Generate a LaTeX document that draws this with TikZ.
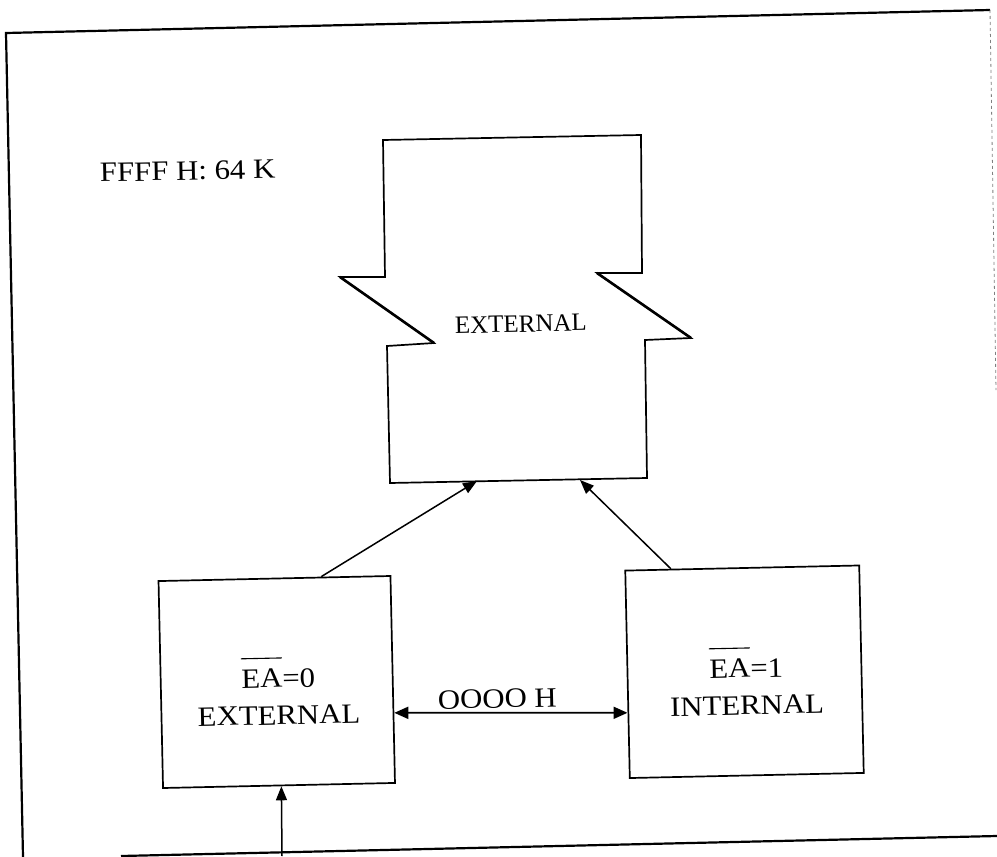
\documentclass[tikz,border=0pt]{standalone}
\usepackage{fontspec}
\setmainfont{Liberation Serif}[FakeStretch=1.1]
\newfontfamily\plainserif{Liberation Serif}
\usetikzlibrary{arrows.meta,calc}
\newcommand\ovl[1]{{\setbox0\hbox{#1}\rlap{\rule[29pt]{\wd0}{1.1pt}}\box0}}
\begin{document}
\begin{tikzpicture}[x=1pt,y=-1pt,
  membox/.style={draw, line width=1.7pt, rotate=1.25, inner sep=0pt},
  lbl/.style={rotate=1.25, inner sep=0pt, font=\fontsize{28}{37}\selectfont, align=center},
  arr/.style={line width=1.5pt, -{Triangle[length=14pt,width=11pt]}},
  arrs/.style={line width=1.8pt, {Triangle[length=14pt,width=12pt]}-{Triangle[length=14pt,width=12pt]}},
  frameline/.style={line width=2.2pt},
  shapeline/.style={line width=1.7pt, line join=miter}
]
\useasboundingbox (0,0) rectangle (997,857);
% frame
\draw[frameline] (23,857) -- (6,33) -- (990,10);
\draw[line width=0.8pt, gray, dashed] (990,10) -- (996,390);
\draw[frameline] (121,856) -- (997,836);
% upper memory shape with break marks
\draw[shapeline] (383,140) -- (641,135) -- (642,273) -- (597,273) -- (691,338) -- (645,340)
  -- (647,478) -- (390,483) -- (387,346) -- (434,343) -- (340,277) -- (385,277) -- cycle;
\draw[line width=2.6pt] (340,277) -- (434,343);
\draw[line width=2.6pt] (597,273) -- (691,338);
\coordinate (sbL) at (477,481);
\coordinate (sbR) at (580,480);
\node[rotate=1.25, inner sep=0pt, anchor=base, font=\plainserif\fontsize{25}{30}\selectfont] (extlbl) at (521,332) {EXTERNAL};
% boxes
\node[membox, minimum width=232pt, minimum height=207pt] (ext0) at (276.75,682) {};
\node[membox, minimum width=234pt, minimum height=207.5pt] (int1) at (744.5,671.75) {};
\node[lbl] (ext0txt) at (278.5,691) {\ovl{EA}=0\\EXTERNAL};
\node[lbl] (int1txt) at (746.5,681) {\ovl{EA}=1\\INTERNAL};
\node[lbl, anchor=base west] (toplbl) at (100,182) {FFFF H: 64 K};
\node[lbl, anchor=base] (addr) at (497.5,708) {OOOO H};
% connectors
\draw[arr] ($(ext0.north west)!0.70!(ext0.north east)$) -- (sbL);
\draw[arr] ($(int1.north west)!0.197!(int1.north east)$) -- (sbR);
\draw[arrs] ($(ext0.south east)!0.34!(ext0.north east)$) -- ($(int1.south west)!0.316!(int1.north west)$);
\coordinate (bin) at (282,856);
\draw[arr] (bin) -- ($(ext0.south west)!0.51!(ext0.south east)$);
\end{tikzpicture}
\end{document}
